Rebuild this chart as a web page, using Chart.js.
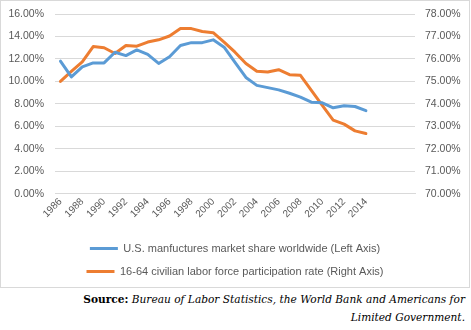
<!DOCTYPE html>
<html>
<head>
<meta charset="utf-8">
<script src="https://cdn.jsdelivr.net/npm/chart.js@4.4.1/dist/chart.umd.min.js"></script>
<style>
  html, body { margin: 0; padding: 0; background: #fff; }
  body { width: 471px; height: 330px; position: relative; overflow: hidden; }
  #box { position: absolute; left: 0; top: 0; width: 468px; height: 286px; border: 1px solid #d9d9d9; }
  #source {
    position: absolute; right: 6px; top: 290px; width: 460px;
    text-align: right; font-family: 'DejaVu Serif', serif; font-size: 10.6px;
    line-height: 18px; color: #000;
  }
  #source i { font-style: italic; }
</style>
</head>
<body>
<div id="box"><canvas id="chart" width="468" height="286"></canvas></div>
<div id="source"><b>Source:</b> <i>Bureau of Labor Statistics, the World Bank and Americans for<br>Limited Government.</i></div>
<script>
// years 1986-2014, plus empty slots the original axis leaves at the right
const years = ['1986', '1987', '1988', '1989', '1990', '1991', '1992', '1993', '1994', '1995',
  '1996', '1997', '1998', '1999', '2000', '2001', '2002', '2003', '2004', '2005',
  '2006', '2007', '2008', '2009', '2010', '2011', '2012', '2013', '2014', '', '', '', ''];

// U.S. manufactures market share worldwide, % (left axis)
const marketShare = [11.8, 10.4, 11.3, 11.65, 11.65, 12.6, 12.3, 12.8, 12.4, 11.6,
  12.2, 13.2, 13.45, 13.45, 13.7, 13.05, 11.7, 10.35, 9.65, 9.45,
  9.25, 8.95, 8.6, 8.15, 8.1, 7.65, 7.83, 7.77, 7.4];

// 16-64 civilian labor force participation rate, % (right axis)
const participation = [75.0, 75.45, 75.87, 76.55, 76.5, 76.24, 76.6, 76.57, 76.75, 76.85,
  77.02, 77.35, 77.35, 77.22, 77.17, 76.75, 76.3, 75.8, 75.45, 75.42,
  75.52, 75.3, 75.27, 74.6, 73.93, 73.28, 73.1, 72.8, 72.68];

const BLUE = '#5b9bd5';
const ORANGE = '#ed7d31';
const GRID = '#d9d9d9';
const TEXT = '#595959';
const FONT = "'Liberation Sans', Arial, sans-serif";

const pct = v => Number(v).toFixed(2) + '%';

// fixed axis box so the plot sits where the original's does
function fitY(s) {
  s.width = 54;
  s.paddingTop = 0;
  s.paddingBottom = 0;
}

new Chart(document.getElementById('chart'), {
  type: 'line',
  data: {
    labels: years,
    datasets: [{
      label: 'U.S. manfuctures market share worldwide (Left Axis)',
      data: marketShare,
      yAxisID: 'yLeft',
      borderColor: BLUE,
      backgroundColor: BLUE,
      borderWidth: 3,
      pointRadius: 0,
      tension: 0,
      borderJoinStyle: 'round',
      borderCapStyle: 'round',
      fill: false
    }, {
      label: '16-64 civilian labor force participation rate (Right Axis)',
      data: participation,
      yAxisID: 'yRight',
      borderColor: ORANGE,
      backgroundColor: ORANGE,
      borderWidth: 3,
      pointRadius: 0,
      tension: 0,
      borderJoinStyle: 'round',
      borderCapStyle: 'round',
      fill: false
    }]
  },
  options: {
    responsive: false,
    animation: false,
    layout: { padding: { left: 0, right: 0, top: 13, bottom: 0 } },
    plugins: {
      tooltip: { enabled: false },
      legend: {
        position: 'bottom',
        labels: {
          color: TEXT,
          font: { family: FONT, size: 11 },
          boxWidth: 28,
          boxHeight: 3,
          padding: 12,
          generateLabels: chart =>
            Chart.defaults.plugins.legend.labels.generateLabels(chart).map(l => ({ ...l, lineWidth: 0 }))
        }
      }
    },
    scales: {
      x: {
        offset: true,
        afterFit: s => { s.height += 9; },
        grid: { display: false, drawTicks: false },
        border: { color: GRID },
        ticks: {
          color: TEXT,
          font: { family: FONT, size: 10 },
          autoSkip: false,
          maxRotation: 45,
          minRotation: 45,
          padding: 2,
          callback: function (v, i) { return i % 2 === 0 ? this.getLabelForValue(v) : ''; }
        }
      },
      yLeft: {
        position: 'left',
        min: 0,
        max: 16,
        afterFit: fitY,
        grid: { color: GRID, drawTicks: false },
        border: { display: false },
        ticks: { stepSize: 2, color: TEXT, font: { family: FONT, size: 10.5 }, padding: 11, callback: pct }
      },
      yRight: {
        position: 'right',
        min: 70,
        max: 78,
        afterFit: fitY,
        grid: { drawOnChartArea: false, drawTicks: false },
        border: { display: false },
        ticks: { stepSize: 1, color: TEXT, font: { family: FONT, size: 10.5 }, padding: 10, callback: pct }
      }
    }
  }
});
</script>
</body>
</html>
